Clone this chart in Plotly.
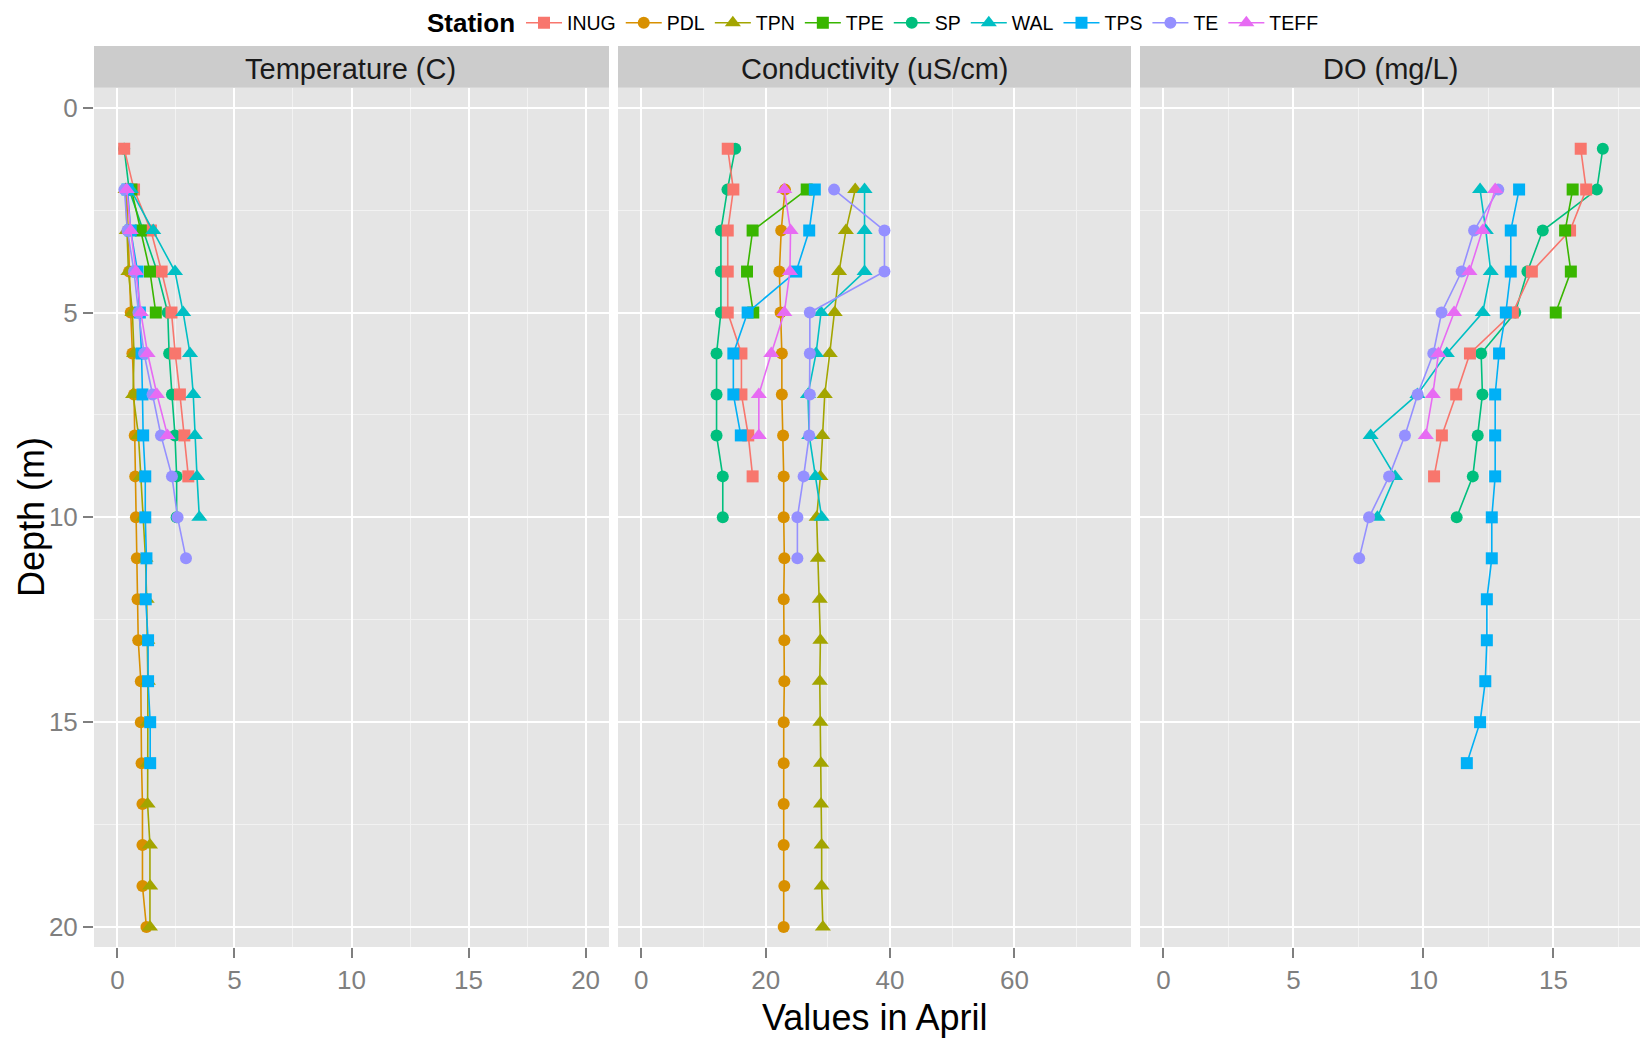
import plotly.graph_objects as go

# ---------------- data ----------------
stations = ["INUG", "PDL", "TPN", "TPE", "SP", "WAL", "TPS", "TE", "TEFF"]
colors = {"INUG": "#F8766D", "PDL": "#D89000", "TPN": "#A3A500", "TPE": "#39B600",
          "SP": "#00BF7D", "WAL": "#00BFC4", "TPS": "#00B0F6", "TE": "#9590FF", "TEFF": "#E76BF3"}
symbols = {"INUG": "square", "PDL": "circle", "TPN": "triangle-up", "TPE": "square",
           "SP": "circle", "WAL": "triangle-up", "TPS": "square", "TE": "circle", "TEFF": "triangle-up"}

depths = {
    "INUG": [1, 2, 3, 4, 5, 6, 7, 8, 9],
    "PDL": [2, 3, 4, 5, 6, 7, 8, 9, 10, 11, 12, 13, 14, 15, 16, 17, 18, 19, 20],
    "TPN": [2, 3, 4, 5, 6, 7, 8, 9, 10, 11, 12, 13, 14, 15, 16, 17, 18, 19, 20],
    "TPE": [2, 3, 4, 5],
    "SP": [1, 2, 3, 4, 5, 6, 7, 8, 9, 10],
    "WAL": [2, 3, 4, 5, 6, 7, 8, 9, 10],
    "TPS": [2, 3, 4, 5, 6, 7, 8, 9, 10, 11, 12, 13, 14, 15, 16],
    "TE": [2, 3, 4, 5, 6, 7, 8, 9, 10, 11],
    "TEFF": [2, 3, 4, 5, 6, 7, 8],
}
tps_cond_depths = [2, 3, 4, 5, 6, 7, 8]

temperature = {
    "INUG": [0.29, 0.71, 1.43, 1.89, 2.31, 2.47, 2.67, 2.86, 3.03],
    "PDL": [0.40, 0.45, 0.50, 0.57, 0.64, 0.71, 0.74, 0.76, 0.79, 0.83, 0.86, 0.89, 1.00, 1.00, 1.03, 1.07, 1.07, 1.07, 1.24],
    "TPN": [0.35, 0.40, 0.47, 0.64, 0.71, 0.67, 0.90, 1.00, 1.10, 1.20, 1.25, 1.28, 1.30, 1.30, 1.30, 1.29, 1.39, 1.40, 1.39],
    "TPE": [0.60, 1.00, 1.39, 1.64],
    "SP": [0.29, 0.50, 1.10, 1.70, 2.15, 2.21, 2.33, 2.46, 2.53, 2.53],
    "WAL": [0.57, 1.53, 2.46, 2.81, 3.10, 3.24, 3.31, 3.40, 3.50],
    "TPS": [0.43, 0.57, 0.86, 0.96, 1.03, 1.07, 1.10, 1.19, 1.19, 1.24, 1.21, 1.31, 1.31, 1.40, 1.40],
    "TE": [0.30, 0.43, 0.71, 0.90, 1.14, 1.50, 1.86, 2.33, 2.57, 2.93],
    "TEFF": [0.40, 0.57, 0.79, 1.00, 1.29, 1.69, 2.14],
}

conductivity = {
    "INUG": [13.9, 14.8, 13.9, 13.9, 13.9, 16.1, 16.1, 17.2, 17.9],
    "PDL": [23.1, 22.5, 22.2, 22.4, 22.6, 22.6, 22.8, 22.9, 22.9, 23.0, 22.9, 23.0, 23.0, 22.9, 22.9, 22.9, 22.9, 23.0, 22.9],
    "TPN": [34.4, 32.9, 31.8, 31.1, 30.3, 29.5, 29.1, 28.8, 28.2, 28.4, 28.7, 28.8, 28.7, 28.8, 28.9, 28.9, 29.0, 29.0, 29.2],
    "TPE": [26.6, 17.9, 17.0, 18.0],
    "SP": [15.1, 13.85, 12.8, 12.8, 12.8, 12.1, 12.1, 12.1, 13.1, 13.1],
    "WAL": [35.9, 35.9, 35.9, 28.9, 28.1, 26.8, 27.0, 28.0, 29.0],
    "TPS": [27.9, 27.0, 24.9, 17.1, 14.8, 14.8, 16.0],
    "TE": [31.0, 39.1, 39.1, 27.1, 27.1, 27.1, 27.0, 26.1, 25.1, 25.1],
    "TEFF": [23.0, 24.0, 23.9, 23.0, 20.9, 18.9, 18.9],
}

dissolved_oxygen = {
    "INUG": [16.05, 16.26, 15.64, 14.17, 13.44, 11.79, 11.26, 10.71, 10.41],
    "TPE": [15.74, 15.45, 15.67, 15.09],
    "SP": [16.9, 16.67, 14.59, 14.0, 13.53, 12.22, 12.27, 12.09, 11.9, 11.28],
    "WAL": [12.18, 12.4, 12.59, 12.28, 10.9, 9.77, 7.97, 8.91, 8.23],
    "TPS": [13.68, 13.36, 13.36, 13.17, 12.91, 12.76, 12.76, 12.76, 12.63, 12.63, 12.44, 12.44, 12.38, 12.18, 11.67],
    "TE": [12.88, 11.95, 11.47, 10.7, 10.38, 9.78, 9.29, 8.68, 7.91, 7.53],
    "TEFF": [12.76, 12.28, 11.77, 11.18, 10.58, 10.36, 10.09],
}

panel_titles = ["Temperature (C)", "Conductivity (uS/cm)", "DO (mg/L)"]
x_ticks = [[0, 5, 10, 15, 20], [0, 20, 40, 60], [0, 5, 10, 15]]
y_ticks = [0, 5, 10, 15, 20]

# ---------------- figure ----------------
W, H = 1640, 1039
FONT = "Liberation Sans, Arial, sans-serif"


def fx(px):
    return px / W


def fy(py):
    return 1 - py / H


fig = go.Figure()

# drawing order: SP drawn before INUG so that INUG's first square sits on top
draw_order = ["SP", "INUG", "PDL", "TPN", "TPE", "WAL", "TPS", "TE", "TEFF"]

panels = [temperature, conductivity, dissolved_oxygen]
for p, data in enumerate(panels):
    xa = "x" if p == 0 else f"x{p+1}"
    ya = "y" if p == 0 else f"y{p+1}"
    for st in draw_order:
        if st not in data:
            continue
        d = tps_cond_depths if (p == 1 and st == "TPS") else depths[st]
        msize = 14 if symbols[st] == "triangle-up" else 12
        fig.add_trace(go.Scatter(
            x=data[st], y=d, mode="lines+markers", name=st,
            legendgroup=st, showlegend=(p == 0), legendrank=stations.index(st) + 1,
            line=dict(color=colors[st], width=1.6),
            marker=dict(symbol=symbols[st], size=msize, color=colors[st], line=dict(width=0)),
            xaxis=xa, yaxis=ya,
        ))

x_domains = [(94, 609), (618, 1131), (1140, 1640)]
x_ranges = [[-1, 21], [-3.75, 78.75], [-0.9, 18.33]]
x_minor = [2.5, 10, 2.5]
y_top, y_bot = 87.7, 947
y_range = [20.488, -0.488]

axis_common = dict(
    showgrid=True, gridcolor="white", gridwidth=2,
    zeroline=False, showline=False,
    ticks="outside", ticklen=10, tickwidth=2, tickcolor="#7F7F7F",
    tickfont=dict(family=FONT, size=26, color="#7F7F7F"),
)

layout_axes = {}
for p in range(3):
    xname = "xaxis" if p == 0 else f"xaxis{p+1}"
    yname = "yaxis" if p == 0 else f"yaxis{p+1}"
    layout_axes[xname] = dict(
        axis_common, domain=[fx(x_domains[p][0]), fx(x_domains[p][1])],
        range=x_ranges[p], tickmode="array", tickvals=x_ticks[p],
        ticktext=[str(v) for v in x_ticks[p]],
        anchor="y" if p == 0 else f"y{p+1}",
        minor=dict(dtick=x_minor[p], tick0=0, showgrid=True, gridcolor="#F2F2F2", gridwidth=1, ticks=""),
    )
    layout_axes[yname] = dict(
        axis_common, domain=[fy(y_bot), fy(y_top)], range=y_range,
        tickmode="array", tickvals=y_ticks, ticktext=[str(v) for v in y_ticks],
        showticklabels=(p == 0), ticks="outside" if p == 0 else "",
        anchor="x" if p == 0 else f"x{p+1}",
        minor=dict(dtick=2.5, tick0=0, showgrid=True, gridcolor="#F2F2F2", gridwidth=1, ticks=""),
    )
    if p > 0:
        layout_axes[yname]["matches"] = "y"

shapes = []
annotations = []
for p in range(3):
    x0, x1 = x_domains[p]
    # panel background
    shapes.append(dict(type="rect", xref="paper", yref="paper", layer="below",
                       x0=fx(x0), x1=fx(x1), y0=fy(y_bot), y1=fy(y_top),
                       fillcolor="#E5E5E5", line=dict(width=0)))
    # strip
    shapes.append(dict(type="rect", xref="paper", yref="paper",
                       x0=fx(x0), x1=fx(x1), y0=fy(y_top), y1=fy(46),
                       fillcolor="#CCCCCC", line=dict(width=0)))
    cx = (x0 + min(x1, x0 + 513)) / 2
    annotations.append(dict(text=panel_titles[p], xref="paper", yref="paper",
                            x=fx(cx), y=fy(69), xanchor="center", yanchor="middle",
                            showarrow=False, font=dict(family=FONT, size=29, color="#1A1A1A")))

annotations.append(dict(text="Values in April", xref="paper", yref="paper",
                        x=fx(874), y=fy(1017), xanchor="center", yanchor="middle",
                        showarrow=False, font=dict(family=FONT, size=36, color="black")))
annotations.append(dict(text="Depth (m)", xref="paper", yref="paper", textangle=-90,
                        x=fx(31), y=fy(517), xanchor="center", yanchor="middle",
                        showarrow=False, font=dict(family=FONT, size=36, color="black")))
annotations.append(dict(text="<b>Station</b>", xref="paper", yref="paper",
                        x=fx(471), y=fy(23), xanchor="center", yanchor="middle",
                        showarrow=False, font=dict(family=FONT, size=26, color="black")))

fig.update_layout(
    width=W, height=H,
    margin=dict(l=0, r=0, t=0, b=0),
    paper_bgcolor="white", plot_bgcolor="rgba(0,0,0,0)",
    font=dict(family=FONT),
    shapes=shapes, annotations=annotations,
    legend=dict(
        orientation="h", x=fx(521), xanchor="left", y=fy(23), yanchor="middle",
        font=dict(family=FONT, size=19.5, color="black"),
        itemwidth=36, bgcolor="rgba(0,0,0,0)", valign="middle",
        itemclick=False, itemdoubleclick=False, traceorder="normal",
    ),
    **layout_axes,
)

fig.write_html("out.html")
